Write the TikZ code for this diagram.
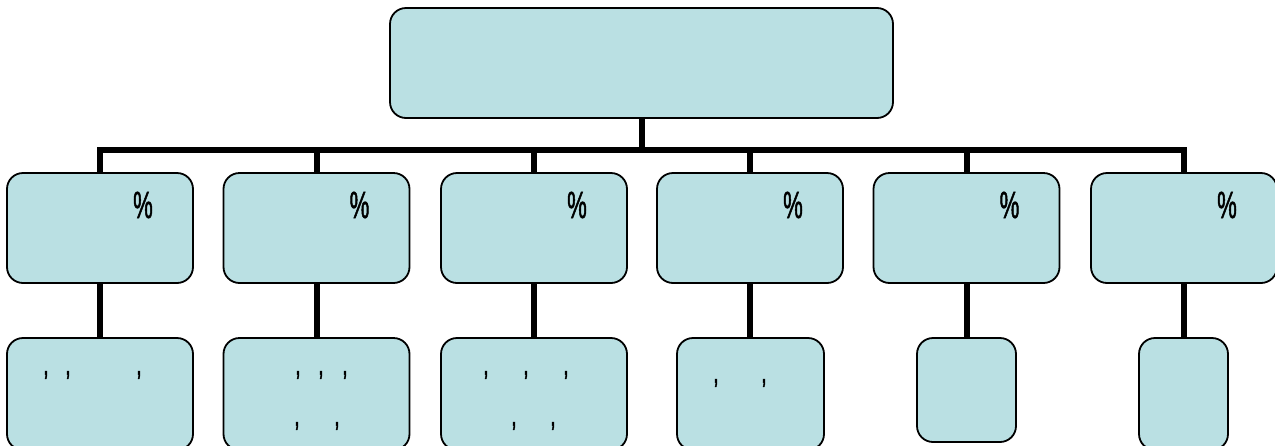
\documentclass[tikz,border=0pt]{standalone}
\usepackage{fontspec}
\newfontfamily\narrowfont[FakeStretch=0.58,FakeBold=1.2]{Liberation Sans}
\definecolor{boxfill}{RGB}{186,224,227}
\begin{document}
\begin{tikzpicture}[x=1pt,y=-1pt,
  box/.style={draw=black,line width=1.8pt,fill=boxfill,rounded corners=16pt,inner sep=0pt},
  conn/.style={line width=6pt},
  lbl/.style={font=\narrowfont\fontsize{38}{38}\selectfont,inner sep=0pt,anchor=center},
  tick/.style={font=\narrowfont\fontsize{34}{34}\selectfont,inner sep=0pt,anchor=center}]
\clip (0,0) rectangle (1275,445);
\fill[white] (0,0) rectangle (1275,445);
% top
\node[box,minimum width=503pt,minimum height=110pt] (top) at (641.5,63) {};
% middle row
\foreach \i/\x in {1/100,2/316.5,3/534,4/750,5/966.5,6/1184}{
  \node[box,minimum width=186pt,minimum height=110pt] (m\i) at (\x,228) {};
  \node[lbl] (p\i) at (\x+43,205) {\%};
}
% bottom row
\node[box,minimum width=186pt,minimum height=112pt] (b1) at (100,394) {};
\node[box,minimum width=186pt,minimum height=112pt] (b2) at (316.5,394) {};
\node[box,minimum width=186pt,minimum height=112pt] (b3) at (534,394) {};
\node[box,minimum width=147pt,minimum height=112pt] (b4) at (750.5,394) {};
\node[box,minimum width=99pt,minimum height=104pt] (b5) at (966.5,390) {};
\node[box,minimum width=89pt,minimum height=112pt] (b6) at (1183.5,394) {};
% marks in bottom boxes
\node[tick] (c1a) at (46,375) {,};
\node[tick] (c1b) at (68,375) {,};
\node[tick] (c1c) at (139,375) {,};
\node[tick] (c2a) at (298,375) {,};
\node[tick] (c2b) at (321,375) {,};
\node[tick] (c2c) at (345,375) {,};
\node[tick] (c2d) at (297,426) {,};
\node[tick] (c2e) at (337,426) {,};
\node[tick] (c3a) at (486,375) {,};
\node[tick] (c3b) at (526,375) {,};
\node[tick] (c3c) at (566,375) {,};
\node[tick] (c3d) at (514,426) {,};
\node[tick] (c3e) at (553,426) {,};
\node[tick] (c4a) at (716,383) {,};
\node[tick] (c4b) at (764,383) {,};
% connectors
\coordinate (busL) at (97,150);
\coordinate (busR) at (1187,150);
\draw[conn] (top.south) -- (top.south |- busL);
\draw[conn] (busL) -- (busR);
\foreach \i in {1,...,6}{
  \draw[conn] (m\i.north |- busL) -- (m\i.north);
  \draw[conn] (m\i.south) -- (b\i.north -| m\i.south);
}
\end{tikzpicture}
\end{document}
